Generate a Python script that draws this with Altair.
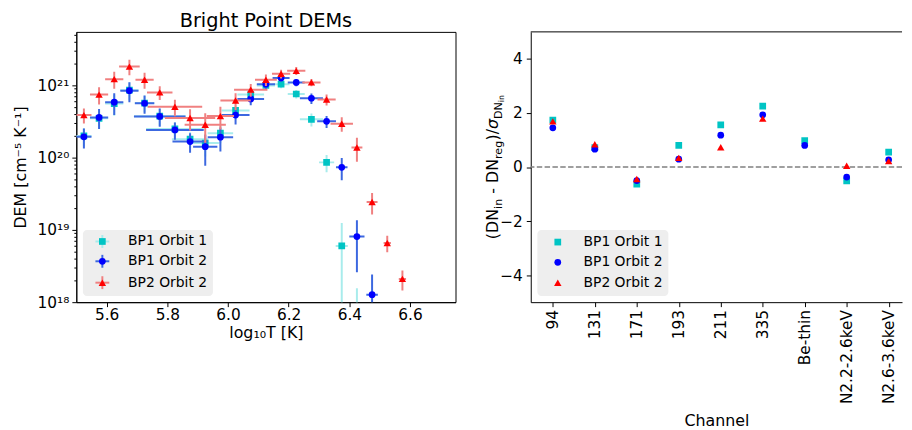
import json
import altair as alt
import pandas as pd

FONT = "DejaVu Sans"

# ---------------- data ----------------
series_names = ["BP1 Orbit 1", "BP1 Orbit 2", "BP2 Orbit 2"]
chart_title = "Bright Point DEMs"

log_t = [5.525, 5.575, 5.625, 5.675, 5.725, 5.775, 5.825, 5.875, 5.925, 5.975,
         6.025, 6.075, 6.125, 6.175, 6.225, 6.275, 6.325, 6.375, 6.425, 6.475,
         6.525, 6.575]

# BP1 Orbit 1
dem_bp1_o1 = [2.0e20, 3.5e20, 5.6e20, 8.6e20, 5.7e20, 3.75e20, 2.5e20, 1.8e20, 1.59e20, 2.18e20,
              4.5e20, 7.47e20, 1.0e21, 1.04e21, 7.6e20, 3.39e20, 8.6e19, 6.0e18, 4.0e17, None,
              None, None]
dem_err_bp1_o1 = [0.55e20, 1.0e20, 1.8e20, 2.4e20, 1.5e20, 1.0e20, 0.6e20, 0.45e20, 0.55e20, 0.6e20,
                  0.9e20, 1.1e20, 1.4e20, 1.3e20, 1.0e20, 0.7e20, 2.3e19, 6.5e18, 1.16e18, None,
                  None, None]
logt_err_bp1_o1 = [0.025, 0.03, 0.03, 0.03, 0.032, 0.085, 0.095, 0.06, 0.045, 0.042,
                   0.046, 0.044, 0.03, 0.028, 0.028, 0.038, 0.025, 0.02, 0.02, None,
                   None, None]

# BP1 Orbit 2
dem_bp1_o2 = [1.94e20, 3.6e20, 5.85e20, 8.45e20, 5.66e20, 3.72e20, 2.42e20, 1.67e20, 1.42e20, 1.92e20,
              3.88e20, 6.5e20, 1.04e21, 1.27e21, 1.1e21, 6.64e20, 3.18e20, 7.36e19, 8.1e18, 1.27e18,
              None, None]
dem_err_bp1_o2 = [0.6e20, 1.1e20, 1.95e20, 2.6e20, 1.6e20, 1.05e20, 0.65e20, 0.5e20, 0.65e20, 0.7e20,
                  1.0e20, 1.2e20, 1.5e20, 1.5e20, 1.3e20, 1.1e20, 0.6e20, 2.5e19, 5.5e18, 1.15e18,
                  None, None]
logt_err_bp1_o2 = [0.025, 0.03, 0.03, 0.03, 0.032, 0.085, 0.095, 0.058, 0.04, 0.042,
                   0.046, 0.044, 0.03, 0.028, 0.028, 0.038, 0.031, 0.019, 0.025, 0.019,
                   None, None]

# BP2 Orbit 2
dem_bp2_o2 = [3.88e20, 7.46e20, 1.22e21, 1.82e21, 1.2e21, 8.0e20, 5.05e20, 3.53e20, 2.86e20, 3.76e20,
              6.17e20, 8.73e20, 1.2e21, 1.45e21, 1.59e21, 1.1e21, 6.37e20, 2.95e20, 1.38e20, 2.44e19,
              6.6e18, 2.1e18]
dem_err_bp2_o2 = [0.9e20, 2.0e20, 3.2e20, 4.4e20, 3.0e20, 1.7e20, 1.3e20, 1.15e20, 1.25e20, 1.3e20,
                  1.6e20, 1.75e20, 2.2e20, 2.0e20, 2.0e20, 1.3e20, 1.1e20, 0.67e20, 0.5e20, 8e18,
                  1.7e18, 0.65e18]
logt_err_bp2_o2 = [0.025, 0.03, 0.03, 0.034, 0.03, 0.042, 0.09, 0.083, 0.068, 0.045,
                   0.05, 0.055, 0.036, 0.03, 0.03, 0.03, 0.03, 0.037, 0.018, 0.018,
                   0.012, 0.012]

channels = ["94", "131", "171", "193", "211", "335", "Be-thin", "N2.2-2.6keV", "N2.6-3.6keV"]
resid_bp1_o1 = [1.74, 0.72, -0.63, 0.80, 1.56, 2.25, 0.98, -0.51, 0.55]
resid_bp1_o2 = [1.45, 0.66, -0.50, 0.29, 1.18, 1.93, 0.80, -0.37, 0.27]
resid_bp2_o2 = [1.69, 0.84, -0.44, 0.34, 0.73, 1.79, None, 0.05, 0.22]

x_ticks_left = [5.6, 5.8, 6.0, 6.2, 6.4, 6.6]
major_exps = [18, 19, 20, 21]
y_ticks_right = [-4, -2, 0, 2, 4]

# ---------------- styles ----------------
marker_colors = ["#00c4c4", "#0000ff", "#ff0000"]
errbar_colors = ["#a8ecec", "#3c68e0", "#f08080"]
marker_shapes = ["square", "circle", "triangle-up"]
marker_sizes = [46, 46, 56]

LW, LH = 383, 273
RW, RH = 375, 273
CAT_PX = 42.4          # pixels between channel positions
CAT_PAD = 0.526        # left padding of the channel axis, in channel units

# ---------------- tables ----------------
dem_sets = [(dem_bp1_o1, dem_err_bp1_o1, logt_err_bp1_o1),
            (dem_bp1_o2, dem_err_bp1_o2, logt_err_bp1_o2),
            (dem_bp2_o2, dem_err_bp2_o2, logt_err_bp2_o2)]
rows = []
for name, (dem, derr, terr) in zip(series_names, dem_sets):
    for t, d, de, te in zip(log_t, dem, derr, terr):
        if d is None:
            continue
        rows.append({"series": name, "logT": t, "dem": d,
                     "dem_lo": max(d - de, 1e15), "dem_hi": d + de,
                     "t_lo": t - te, "t_hi": t + te})
df_left = pd.DataFrame(rows)

rrows = []
for name, res in zip(series_names, [resid_bp1_o1, resid_bp1_o2, resid_bp2_o2]):
    for i, (c, r) in enumerate(zip(channels, res)):
        if r is None:
            continue
        rrows.append({"series": name, "channel": c, "idx": i, "resid": r})
df_right = pd.DataFrame(rrows)
df_series = pd.DataFrame({"series": series_names})
df_one = pd.DataFrame({"k": [0]})

# ---------------- left panel ----------------
SUP = {"0": "⁰", "1": "¹", "2": "²", "3": "³", "4": "⁴", "5": "⁵", "6": "⁶", "7": "⁷", "8": "⁸", "9": "⁹"}
exp_expr = "round(log(datum.value) / LN10)"
is_major = f"abs(log(datum.value) / LN10 - {exp_expr}) < 0.01"
label_expr = (f"{is_major} ? (" +
              " : ".join(f"{exp_expr} == {e} ? '10{''.join(SUP[ch] for ch in str(e))}'" for e in major_exps) +
              " : '') : ''")
y_vals = [float(10 ** e) for e in major_exps]
y_vals += [float(m * 10 ** e) for e in major_exps for m in range(2, 10) if m * 10 ** e <= 5.5e21]

xs_left = alt.Scale(domain=[5.5, 6.75], nice=False, zero=False)
ys_left = alt.Scale(type="log", domain=[1e18, 5.5e21], nice=False)
x_axis_left = alt.Axis(title="log₁₀T [K]", values=x_ticks_left, format=".1f", tickSize=4.5,
                       labelFontSize=15.5, titleFontSize=16, labelPadding=1, titlePadding=2)
y_axis_left = alt.Axis(title="DEM [cm⁻⁵ K⁻¹]", values=y_vals, labelExpr=label_expr,
                       tickSize={"condition": {"test": is_major, "value": 4.5}, "value": 2.5},
                       labelOverlap=False, labelFontSize=15.5, titleFontSize=16,
                       labelPadding=3, titlePadding=9)

left_layers = []
for name, mc, ec, shp, sz in zip(series_names, marker_colors, errbar_colors, marker_shapes, marker_sizes):
    base = alt.Chart(df_left).transform_filter(alt.datum.series == name)
    left_layers.append(base.mark_rule(color=ec, strokeWidth=2, clip=True).encode(
        x=alt.X("t_lo:Q", scale=xs_left, axis=x_axis_left), x2="t_hi:Q",
        y=alt.Y("dem:Q", scale=ys_left, axis=y_axis_left)))
    left_layers.append(base.mark_rule(color=ec, strokeWidth=2, clip=True).encode(
        x=alt.X("logT:Q", scale=xs_left, axis=x_axis_left),
        y=alt.Y("dem_lo:Q", scale=ys_left, axis=y_axis_left), y2="dem_hi:Q"))
    left_layers.append(base.mark_point(shape=shp, size=sz, filled=True, opacity=1, color=mc,
                                       strokeWidth=0, clip=True).encode(
        x=alt.X("logT:Q", scale=xs_left, axis=x_axis_left),
        y=alt.Y("dem:Q", scale=ys_left, axis=y_axis_left)))


def legend_layers(x0, x1, y0, y1, mx, tx, row_ys, crosses):
    out = [alt.Chart(df_one).mark_rect(color="#eeeeee", cornerRadius=4).encode(
        x=alt.value(x0), x2=alt.value(x1), y=alt.value(y0), y2=alt.value(y1))]
    for name, mc, ec, shp, sz, ry in zip(series_names, marker_colors, errbar_colors,
                                         marker_shapes, marker_sizes, row_ys):
        b = alt.Chart(df_series).transform_filter(alt.datum.series == name)
        if crosses:
            out.append(b.mark_rule(color=ec, strokeWidth=2).encode(
                x=alt.value(mx - 7), x2=alt.value(mx + 7), y=alt.value(ry)))
            out.append(b.mark_rule(color=ec, strokeWidth=2).encode(
                x=alt.value(mx), y=alt.value(ry - 6.5), y2=alt.value(ry + 6.5)))
        out.append(b.mark_point(shape=shp, size=sz, filled=True, opacity=1, color=mc,
                                strokeWidth=0).encode(x=alt.value(mx), y=alt.value(ry)))
        out.append(b.mark_text(align="left", baseline="middle", fontSize=14, font=FONT,
                               color="black").encode(
            x=alt.value(tx), y=alt.value(ry), text="series:N"))
    return out


left_layers += legend_layers(6.7, 138, 200, 266.7, 26.3, 52.3, [211.7, 231.7, 253.3], True)

# panel title as a text mark (baseline 5px above the frame)
left_layers.append(alt.Chart(df_one).mark_text(
    text=chart_title, align="center", baseline="alphabetic", fontSize=19.5, font=FONT,
    color="black").encode(x=alt.value(LW / 2), y=alt.value(-5)))

left = alt.layer(*left_layers).properties(
    width=LW, height=LH,
    view=alt.ViewBackground(stroke="#000000", strokeWidth=1))

# ---------------- right panel ----------------
xs_right = alt.Scale(domain=[-CAT_PAD, RW / CAT_PX - CAT_PAD], nice=False, zero=False)
ys_right = alt.Scale(domain=[-5, 5], nice=False)
x_axis_right = alt.Axis(title="Channel", values=list(range(len(channels))),
                        labelExpr=f"{json.dumps(channels)}[datum.value]", labelAngle=270,
                        tickSize=4.5, labelFontSize=15.5, titleFontSize=16, labelPadding=3,
                        titlePadding=9, labelOverlap=False)
y_axis_right = alt.Axis(title=None, values=y_ticks_right,
                        labelExpr="datum.value < 0 ? '−' + abs(datum.value) : '' + datum.value",
                        tickSize=4.5, labelFontSize=15.5, labelPadding=4)

right_layers = [
    alt.Chart(df_one).mark_rule(color="#808080", strokeDash=[5.5, 2.4], strokeWidth=1.5).encode(
        y=alt.datum(0)),
]
for name, mc, shp, sz in zip(series_names, marker_colors, marker_shapes, marker_sizes):
    right_layers.append(alt.Chart(df_right).transform_filter(alt.datum.series == name)
                        .mark_point(shape=shp, size=sz, filled=True, opacity=1, color=mc,
                                    strokeWidth=0, clip=True).encode(
        x=alt.X("idx:Q", scale=xs_right, axis=x_axis_right),
        y=alt.Y("resid:Q", scale=ys_right, axis=y_axis_right)))
# top border line
right_layers.append(alt.Chart(df_one).mark_rule(color="#000000", strokeWidth=1).encode(
    x=alt.value(0), x2=alt.value(RW), y=alt.value(0)))
right_layers += legend_layers(6.7, 139, 200, 266.7, 27.3, 53.3, [212.3, 232.7, 253.3], False)

# composite y title: (DN_in - DN_reg)/σ_DN_in
CW = {"(": .390, ")": .390, "D": .770, "N": .748, "i": .278, "n": .634, " ": .318,
      "-": .361, "r": .411, "e": .615, "g": .635, "/": .337, "σ": .634}
segs = [("(DN", 0), ("in", 1), (" ", 0), ("-", 0), (" ", 0), ("DN", 0), ("reg", 1), (")/", 0),
        ("σ", 3), ("DN", 1), ("in", 2)]
lvl_size = {0: 16, 1: 11.2, 2: 8.0, 3: 16}
lvl_shift = {0: 0, 1: 3.5, 2: 6.0, 3: 0}
widths = [sum(CW[c] for c in s) * lvl_size[l] for s, l in segs]
total = sum(widths)
ypos = RH / 2 + total / 2
base_x = -33
for (s, l), w in zip(segs, widths):
    if s.strip():
        right_layers.append(alt.Chart(df_one).mark_text(
            text=s, angle=270, align="left", baseline="alphabetic", font=FONT,
            fontSize=lvl_size[l], fontStyle="italic" if l == 3 else "normal", color="black").encode(
            x=alt.value(base_x + lvl_shift[l]), y=alt.value(ypos)))
    ypos -= w

right = alt.layer(*right_layers).properties(
    width=RW, height=RH, view=alt.ViewBackground(stroke="transparent"))

chart = alt.hconcat(left, right, spacing=76, bounds="flush").properties(
    padding={"left": 3, "top": 0, "right": 0, "bottom": 0}
).configure_axis(
    labelFont=FONT, titleFont=FONT, labelColor="black", titleColor="black",
    titleFontWeight="normal", grid=False, domainColor="black", tickColor="black",
    domainWidth=1, tickWidth=1
)

chart.save("out.html", embed_options={"renderer": "svg", "actions": False})
